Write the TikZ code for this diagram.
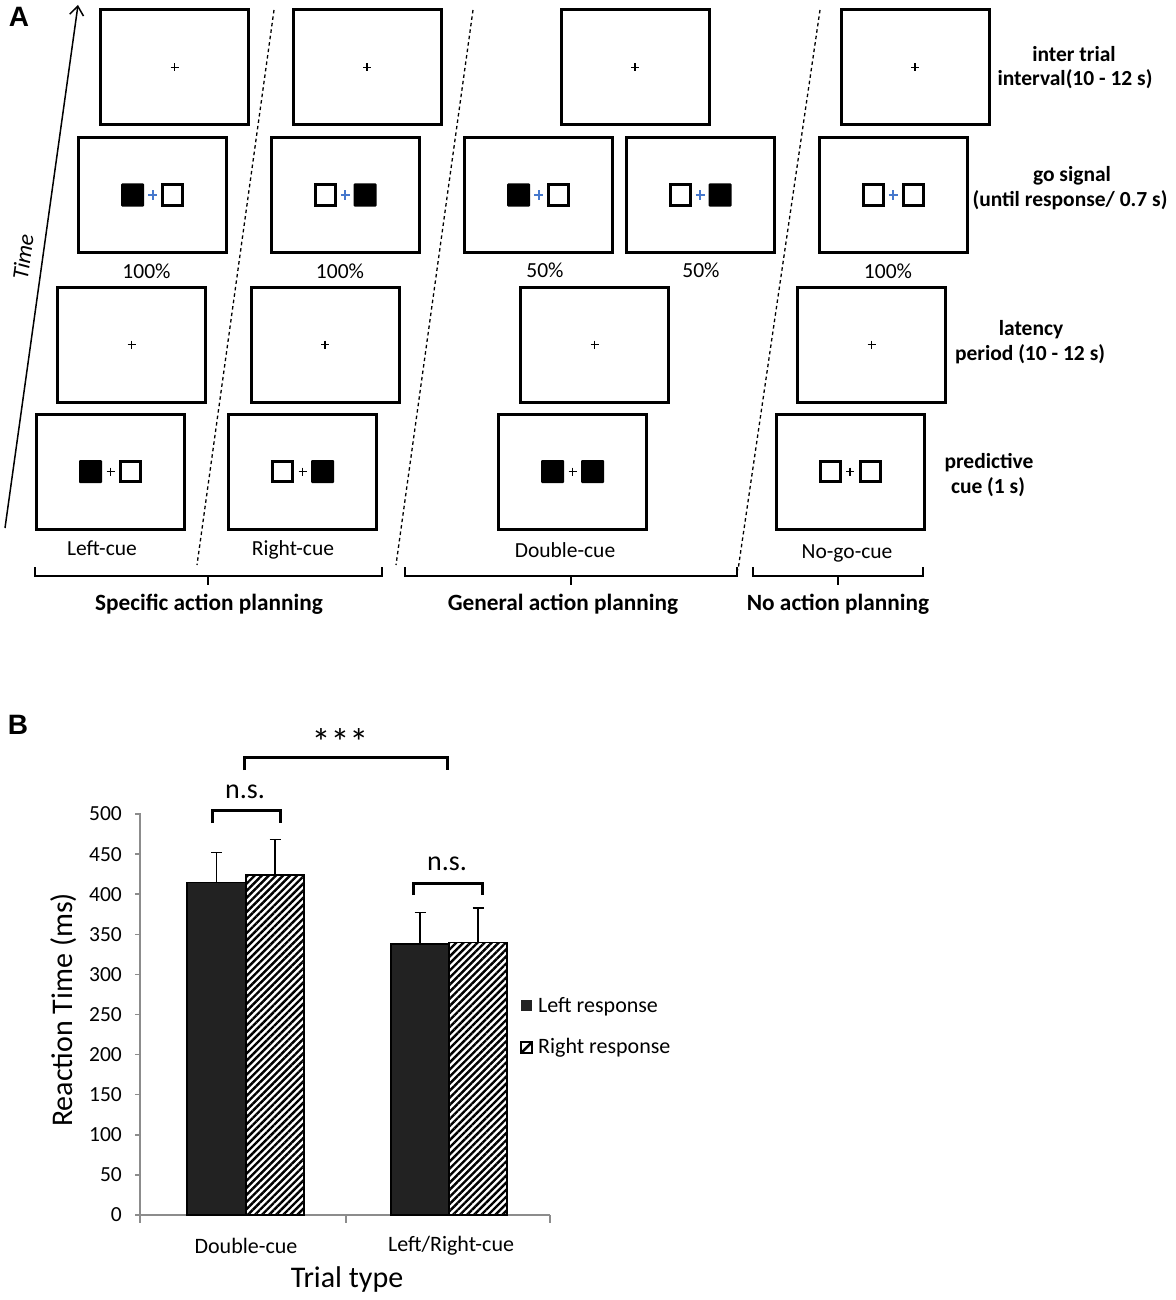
\documentclass[tikz,border=0pt]{standalone}
\usepackage{fontspec}
\setmainfont{Carlito}
\newfontfamily\arialfont{Liberation Sans}
\usetikzlibrary{arrows.meta,patterns.meta}
\definecolor{fixblue}{RGB}{70,120,205}
\definecolor{barblack}{RGB}{34,34,34}
\definecolor{axisgray}{RGB}{140,140,140}
\newcommand\stimuli[4]{\path ([xshift=-20pt]#1.center) pic{#2} ([xshift=20pt]#1.center) pic{#3} (#1.center) pic{#4};}
\begin{document}
\begin{tikzpicture}[x=1pt,y=-1pt,
  scr/.style={draw, line width=3pt, minimum width=148pt, minimum height=115pt, inner sep=0pt},
  txt/.style={font=\fontsize{21.5}{25}\selectfont, inner sep=0pt},
  btxt/.style={font=\fontsize{21.5}{25}\selectfont\bfseries, inner sep=0pt},
  gtxt/.style={font=\fontsize{23.3}{25}\selectfont\bfseries, inner sep=0pt},
  paneltxt/.style={font=\arialfont\fontsize{28}{28}\selectfont\bfseries, inner sep=0pt},
  sepline/.style={line width=1.3pt, dash pattern=on 3.5pt off 3pt},
  bracepath/.style={line width=2pt},
  axisline/.style={axisgray, line width=1.5pt},
  errbar/.style={line width=1.5pt},
  sigbr/.style={line width=3pt},
  hatch/.style={pattern={Lines[angle=45,distance=5pt,line width=2.4pt]}},
  fix/.pic={\draw[line width=1.2pt] (-4,0)--(4,0) (0,-4)--(0,4);},
  bfix/.pic={\draw[line width=2pt, fixblue] (-4.5,0)--(4.5,0) (0,-4.5)--(0,4.5);},
  fsq/.pic={\fill[rounded corners=1pt] (-11.5,-11.5) rectangle (11.5,11.5);},
  hsq/.pic={\draw[line width=3pt] (-10,-10) rectangle (10,10);}
]
\useasboundingbox (0,0) rectangle (1175,1300);
\fill[white] (0,0) rectangle (1175,1300);

% ---------------- Panel A ----------------
\node[paneltxt, anchor=base] (labA) at (19,27) {A};

% screens
\node[scr] (r1c1) at (174.5,67.5) {};
\node[scr] (r2c1) at (152.5,195) {};
\node[scr] (r3c1) at (131.5,344.5) {};
\node[scr] (r4c1) at (110.5,471.5) {};

\node[scr] (r1c2) at (367,67.5) {};
\node[scr] (r2c2) at (345,195) {};
\node[scr] (r3c2) at (325,344.5) {};
\node[scr] (r4c2) at (302.5,471.5) {};

\node[scr] (r1c3) at (635,67.5) {};
\node[scr] (r2c3a) at (538.5,195) {};
\node[scr] (r2c3b) at (700,195) {};
\node[scr] (r3c3) at (594.5,344.5) {};
\node[scr] (r4c3) at (572.5,471.5) {};

\node[scr] (r1c4) at (915,67.5) {};
\node[scr] (r2c4) at (893,195) {};
\node[scr] (r3c4) at (871.5,344.5) {};
\node[scr] (r4c4) at (850,471.5) {};

% fixation crosses
\foreach \b in {r1c1,r3c1,r1c2,r3c2,r1c3,r3c3,r1c4,r3c4} {\path (\b.center) pic{fix};}
% go signals
\stimuli{r2c1}{fsq}{hsq}{bfix}
\stimuli{r2c2}{hsq}{fsq}{bfix}
\stimuli{r2c3a}{fsq}{hsq}{bfix}
\stimuli{r2c3b}{hsq}{fsq}{bfix}
\stimuli{r2c4}{hsq}{hsq}{bfix}
% cues
\stimuli{r4c1}{fsq}{hsq}{fix}
\stimuli{r4c2}{hsq}{fsq}{fix}
\stimuli{r4c3}{fsq}{fsq}{fix}
\stimuli{r4c4}{hsq}{hsq}{fix}

% probabilities
\node[txt, anchor=base] (p1) at (146.5,278) {100\%};
\node[txt, anchor=base] (p2) at (340,278) {100\%};
\node[txt, anchor=base] (p3) at (545,277) {50\%};
\node[txt, anchor=base] (p4) at (701,277) {50\%};
\node[txt, anchor=base] (p5) at (888,278) {100\%};

% cue names
\node[txt, anchor=base] (n1) at (102,555) {Left-cue};
\node[txt, anchor=base] (n2) at (293,555) {Right-cue};
\node[txt, anchor=base] (n3) at (565,557) {Double-cue};
\node[txt, anchor=base] (n4) at (847,558) {No-go-cue};

% separators
\coordinate (d1a) at (274,10); \coordinate (d1b) at (197,565);
\coordinate (d2a) at (473,10); \coordinate (d2b) at (396,565);
\coordinate (d3a) at (820,10); \coordinate (d3b) at (738,570);
\draw[sepline] (d1a) -- (d1b);
\draw[sepline] (d2a) -- (d2b);
\draw[sepline] (d3a) -- (d3b);

% time arrow
\coordinate (t0) at (5,528); \coordinate (t1) at (78,5);
\draw[line width=1.5pt, -{Straight Barb[length=9pt,width=14pt,line width=1.5pt]}] (t0) -- (t1);
\node[inner sep=0pt, font=\fontsize{23}{25}\selectfont\itshape, rotate=82] (timelab) at (23,257) {Time};

% braces
\draw[bracepath] (35,567) -- (35,576) -- (382,576) -- (382,567) (208,576) -- (208,585);
\draw[bracepath] (405,567) -- (405,576) -- (737,576) -- (737,567) (571,576) -- (571,585);
\draw[bracepath] (753,567) -- (753,576) -- (923,576) -- (923,567) (838,576) -- (838,585);
\node[gtxt, anchor=base] (g1) at (209,610) {Specific action planning};
\node[gtxt, anchor=base] (g2) at (563,610) {General action planning};
\node[gtxt, anchor=base] (g3) at (838,610) {No action planning};

% phase labels
\node[btxt, anchor=base] (l1a) at (1074,62) {inter trial};
\node[btxt, anchor=base] (l1b) at (1075,86) {interval(10 - 12 s)};
\node[btxt, anchor=base] (l2a) at (1072,182) {go signal};
\node[btxt, anchor=base] (l2b) at (1070,206) {(until response/ 0.7 s)};
\node[btxt, anchor=base] (l3a) at (1031,335) {latency};
\node[btxt, anchor=base] (l3b) at (1030,360) {period (10 - 12 s)};
\node[btxt, anchor=base] (l4a) at (989,468) {predictive};
\node[btxt, anchor=base] (l4b) at (988,493) {cue (1 s)};

% ---------------- Panel B ----------------
\node[paneltxt, anchor=base] (labB) at (18,734) {B};

% axes
\draw[axisline] (140,813.4) -- (140,1215) -- (550,1215);
\draw[axisline] (140,1215) -- (140,1223) (346,1215) -- (346,1223) (550,1215) -- (550,1223);
\foreach \v in {0,50,...,500} {
  \draw[axisline] (135,{1215-\v*0.802}) -- (140,{1215-\v*0.802});
  \node[txt, anchor=east] (tk\v) at (122,{1215-\v*0.802}) {\v};
}

% bars
\fill[barblack] (187,882.2) rectangle (246,1215);
\draw[line width=1.2pt] (187,882.2) rectangle (246,1215);
\draw[line width=1.5pt, hatch] (246,875) rectangle (304,1215);
\fill[barblack] (391,944) rectangle (449,1215);
\draw[line width=1.2pt] (391,944) rectangle (449,1215);
\draw[line width=1.5pt, hatch] (449,942.3) rectangle (507,1215);

% error bars
\draw[errbar] (216.5,882.2) -- (216.5,852.5) (211,852.5) -- (222,852.5);
\draw[errbar] (275,875) -- (275,839.7) (269.5,839.7) -- (280.5,839.7);
\draw[errbar] (420,944) -- (420,912.6) (414.5,912.6) -- (425.5,912.6);
\draw[errbar] (478,942.3) -- (478,907.8) (472.5,907.8) -- (483.5,907.8);

% significance
\draw[sigbr] (244,770) -- (244,757) -- (447,757) -- (447,770);
\node[anchor=base, inner sep=0pt, font=\fontsize{38}{38}\selectfont] (stars) at (340,755) {***};
\draw[sigbr] (212,823) -- (212,810) -- (280,810) -- (280,823);
\node[anchor=base, inner sep=0pt, font=\fontsize{28}{28}\selectfont] (ns1) at (245,798) {n.s.};
\draw[sigbr] (413,895) -- (413,883) -- (482,883) -- (482,895);
\node[anchor=base, inner sep=0pt, font=\fontsize{28}{28}\selectfont] (ns2) at (447,870) {n.s.};

% legend
\fill[barblack] (521,1000) rectangle (532,1011);
\begin{scope}
\clip (521,1042) rectangle (532,1053);
\draw[line width=2.5pt] (519,1055) -- (534,1040);
\end{scope}
\draw[line width=1.5pt] (521,1042) rectangle (532,1053);
\node[anchor=base west, inner sep=0pt, font=\fontsize{22}{22}\selectfont] (leg1) at (538,1012) {Left response};
\node[anchor=base west, inner sep=0pt, font=\fontsize{22}{22}\selectfont] (leg2) at (538,1053) {Right response};

% axis labels
\node[inner sep=0pt, rotate=90, font=\fontsize{30}{30}\selectfont] (ylab) at (64,1010) {Reaction Time (ms)};
\node[anchor=base, inner sep=0pt, font=\fontsize{22}{22}\selectfont] (xl1) at (246,1253) {Double-cue};
\node[anchor=base, inner sep=0pt, font=\fontsize{22}{22}\selectfont] (xl2) at (451,1251) {Left/Right-cue};
\node[anchor=base, inner sep=0pt, font=\fontsize{30}{30}\selectfont] (xlab) at (347,1287) {Trial type};
\end{tikzpicture}
\end{document}
